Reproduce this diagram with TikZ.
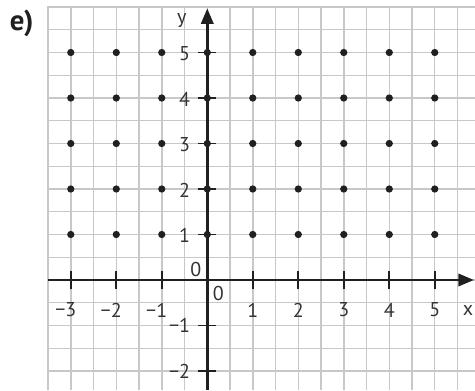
\documentclass[tikz,border=0pt]{standalone}
\usepackage{fontspec}
\setmainfont{PT Sans}
\usetikzlibrary{arrows.meta}
\definecolor{gridgray}{RGB}{200,200,200}
\definecolor{axisblack}{RGB}{32,32,32}
\tikzset{gridline/.style={draw=gridgray, line width=0.9pt},
  axisline/.style={draw=axisblack, line width=1.6pt, -{Triangle[length=0.34cm, width=0.27cm]}},
  tickmark/.style={draw=axisblack, line width=1.2pt},
  lattdot/.style={circle, fill=axisblack, inner sep=0pt, minimum size=0.16cm},
  ticklabel/.style={text=black!80, font=\fontsize{12.5}{14}\selectfont, inner sep=0pt}}

\begin{document}
\begin{tikzpicture}
    \useasboundingbox (-4.556,-2.418) rectangle (5.884,6.154);
    % squared paper
    \draw[gridline, step=0.5] (-3.5,-2.418) grid (5.884,6);
    \draw[gridline] (-3.5,-2.418) -- (-3.5,6) -- (5.884,6);

    % axes
    \draw[axisline] (-3.5,0) -- (5.86,0);
    \draw[axisline] (0,-2.418) -- (0,5.97);

    \foreach \x in {1,...,5} {
        \draw[tickmark] (\x,-0.2) -- (\x,0.2);
        \node[ticklabel] (xl\x) at (\x,-0.66) {\x};
    }
    \foreach \x in {1,2,3} {
        \draw[tickmark] (-\x,-0.2) -- (-\x,0.2);
        \node[ticklabel] (xm\x) at (-\x,-0.66) {\llap{−}\x};
    }
    \foreach \y in {1,...,5} {
        \draw[tickmark] (-0.2,\y) -- (0.2,\y);
        \node[ticklabel, anchor=east] (yl\y) at (-0.37,\y-0.03) {\y};
    }
    \foreach \y in {1,2} {
        \draw[tickmark] (-0.2,-\y) -- (0.2,-\y);
        \node[ticklabel, anchor=east] (ym\y) at (-0.37,-\y) {−\y};
    }
    \node[ticklabel] (zeroy) at (-0.25,0.22) {0};
    \node[ticklabel] (zerox) at (0.24,-0.29) {0};
    \node[ticklabel] (xlab) at (5.73,-0.66) {x};
    \node[ticklabel] (ylab) at (-0.56,5.7) {y};

    % lattice points
    \foreach \x in {-3,...,5}
        \foreach \y in {1,...,5}
            \node[lattdot] (p\x\y) at (\x,\y) {};

    \node[font=\fontsize{18}{20}\selectfont\bfseries, text=axisblack] (part) at (-4.08,5.63) {e)};
\end{tikzpicture}
\end{document}
